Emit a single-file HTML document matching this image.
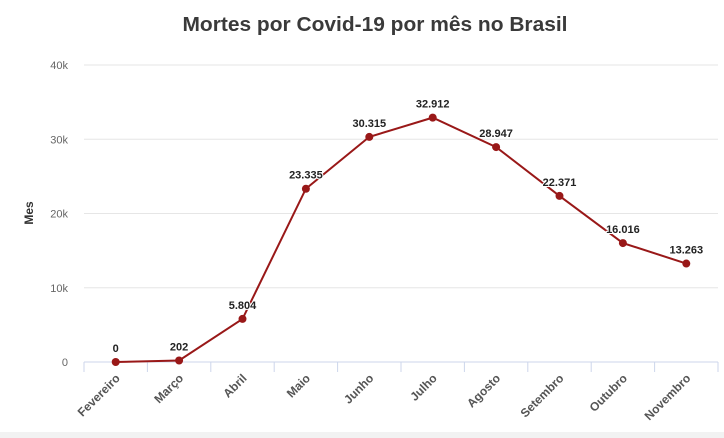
<!DOCTYPE html>
<html><head><meta charset="utf-8"><style>
html,body{margin:0;padding:0;background:#fff;}
svg{display:block;font-family:"Liberation Sans",sans-serif;}
</style></head><body>
<svg id="chart" width="724" height="438" viewBox="0 0 724 438">
<rect x="0" y="0" width="724" height="438" fill="#ffffff"/>
<rect x="0" y="432" width="724" height="6" fill="#f2f2f2"/>
<text x="375" y="31" text-anchor="middle" font-size="20" font-weight="bold" fill="#3a3a3a" textLength="385" lengthAdjust="spacingAndGlyphs">Mortes por Covid-19 por mês no Brasil</text>
<text transform="translate(33,213) rotate(-90)" text-anchor="middle" font-size="12" font-weight="bold" fill="#333">Mes</text>
<g id="grid"></g><g id="xaxis"></g><g id="series"></g>
</svg>
<script>
const categories=["Fevereiro","Março","Abril","Maio","Junho","Julho","Agosto","Setembro","Outubro","Novembro"];
const deaths=[0,202,5804,23335,30315,32912,28947,22371,16016,13263];
const valueLabels=["0","202","5.804","23.335","30.315","32.912","28.947","22.371","16.016","13.263"];
const yTicks=[0,10000,20000,30000,40000];
const yTickLabels=["0","10k","20k","30k","40k"];
const NS="http://www.w3.org/2000/svg";
const x0=84,x1=718,yBase=362,yTop=65,yMax=40000;
const band=(x1-x0)/categories.length;
const xs=i=>x0+band*(i+0.5);
const ys=v=>yBase-(v/yMax)*(yBase-yTop);
function mk(tag,attrs,parent){const e=document.createElementNS(NS,tag);for(const k in attrs)e.setAttribute(k,attrs[k]);parent.appendChild(e);return e;}
const grid=document.getElementById('grid'),xa=document.getElementById('xaxis'),se=document.getElementById('series');
yTicks.forEach((t,i)=>{
 if(t>0){const l=mk('line',{x1:x0,x2:x1,y1:ys(t),y2:ys(t),stroke:'#e6e6e6','stroke-width':1},grid);
 
 }
 const tx=mk('text',{x:68,y:ys(t)+4,'text-anchor':'end','font-size':11,fill:'#666'},grid);
 tx.textContent=yTickLabels[i];
 
 
});
const ax=mk('line',{x1:x0,x2:x1,y1:yBase,y2:yBase,stroke:'#ccd6eb','stroke-width':1},xa);


for(let i=0;i<=categories.length;i++){
 const tk=mk('line',{x1:x0+band*i,x2:x0+band*i,y1:yBase,y2:yBase+10,stroke:'#ccd6eb'},xa);
 
 
}
categories.forEach((c,i)=>{
 const t=mk('text',{transform:`translate(${xs(i)+5},${yBase+17}) rotate(-45)`,'text-anchor':'end','font-size':12,'font-weight':'bold',fill:'#555'},xa);
 t.textContent=c;
 
 
});
const pts=deaths.map((v,i)=>xs(i)+','+ys(v)).join(' ');
const pl=mk('polyline',{points:pts,fill:'none',stroke:'#991818','stroke-width':2},se);


deaths.forEach((v,i)=>{
 const c=mk('circle',{cx:xs(i),cy:ys(v),r:4,fill:'#991818'},se);
 
 
 const t=mk('text',{x:xs(i),y:ys(v)-10,'text-anchor':'middle','font-size':11,'font-weight':'bold',fill:'#222',stroke:'#fff','stroke-width':2,'paint-order':'stroke'},se);
 t.textContent=valueLabels[i];
 
 
});
</script>
</body></html>
